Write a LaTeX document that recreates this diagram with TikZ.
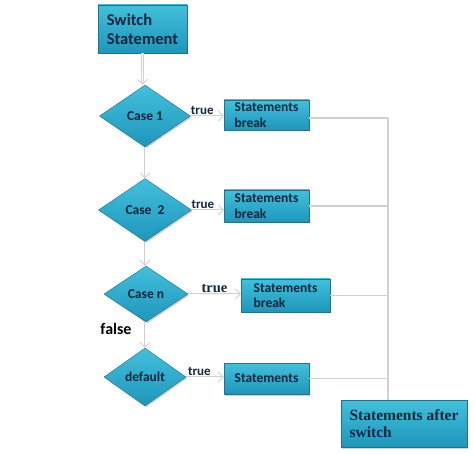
\documentclass[tikz,border=0pt]{standalone}
\usepackage{fontspec}
\setmainfont{Carlito}
\newfontfamily\serifbold{Liberation Serif}
\usetikzlibrary{positioning,shapes.geometric,shadows,arrows.meta}

\definecolor{boxtop}{RGB}{66,192,218}
\definecolor{boxbot}{RGB}{30,150,188}
\definecolor{boxline}{RGB}{36,112,142}
\definecolor{inktext}{RGB}{18,38,62}
\definecolor{linegray}{RGB}{208,208,208}

\tikzset{
    stmt/.style={rectangle, draw=boxline, top color=boxtop, bottom color=boxbot,
        text=inktext, font=\bfseries\fontsize{13.5}{15.5}\selectfont, align=left,
        inner xsep=4pt, inner ysep=0pt,
        drop shadow={shadow xshift=1.2pt, shadow yshift=-1.5pt, opacity=0.35}},
    decision/.style={diamond, draw=boxline, top color=boxtop, bottom color=boxbot,
        text=inktext, font=\bfseries\fontsize{13.5}{15}\selectfont, inner sep=0pt,
        drop shadow={shadow xshift=1.2pt, shadow yshift=-1.5pt, opacity=0.35}},
    flow/.style={draw=linegray, double=white, double distance=0.9pt, line width=0.8pt,
        -{Straight Barb[length=5pt, width=10pt]}},
    mergeline/.style={draw=linegray, line width=1.4pt},
    truelbl/.style={font=\bfseries\fontsize{13}{13}\selectfont, text=inktext, inner sep=1pt}
}

\begin{document}
\begin{tikzpicture}[x=1pt,y=-1pt]
    \useasboundingbox (0,0) rectangle (474,454);
    % boxes and decisions
    \node[stmt, minimum width=89pt, minimum height=48pt,
        font=\bfseries\fontsize{16.5}{19}\selectfont] (sw) at (142.5,29) {Switch\\Statement};
    \node[decision, minimum width=91pt, minimum height=62pt] (c1) at (145,116) {Case 1};
    \node[decision, minimum width=93pt, minimum height=63pt] (c2) at (145,210) {Case~~2};
    \node[decision, minimum width=84pt, minimum height=56pt] (cn) at (146,294) {Case n};
    \node[decision, minimum width=82pt, minimum height=58pt] (cd) at (145,377) {default};
    \node[stmt, minimum width=85pt, minimum height=30pt] (b1) at (266.5,115) {Statements\\break};
    \node[stmt, minimum width=85pt, minimum height=32pt] (b2) at (266.5,206) {Statements\\break};
    \node[stmt, minimum width=89pt, minimum height=33pt] (b3) at (285.5,295.5) {Statements\\break};
    \node[stmt, minimum width=85pt, minimum height=31pt] (b4) at (266.5,378.5) {Statements};
    \node[stmt, minimum width=126pt, minimum height=47pt,
        font=\serifbold\bfseries\fontsize{15.5}{17}\selectfont] (fin) at (404,423.5) {Statements after\\switch};
    \node[font=\bfseries\fontsize{16}{16}\selectfont] (fl) at (116,329) {false};

    % down the chain
    \draw[flow] (sw.south) -- (sw.south |- c1.north);
    \draw[flow] (c1.south) -- (c2.north);
    \draw[flow] (c2.south) -- (c2.south |- cn.north);
    \draw[flow] (cn.south -| cd.north) -- (cd.north);

    % true branches
    \draw[flow] (c1.east) -- (c1.east -| b1.west) node[truelbl, pos=0.35, above] (t1) {true};
    \draw[flow] (c2.east) -- (c2.east -| b2.west) node[truelbl, pos=0.35, above] (t2) {true};
    \draw[flow] (cn.east) -- (cn.east -| b3.west)
        node[truelbl, pos=0.5, above, font=\serifbold\bfseries\fontsize{14.5}{14.5}\selectfont] (t3) {true};
    \draw[flow] (cd.east) -- (cd.east -| b4.west) node[truelbl, pos=0.35, above] (t4) {true};

    % joining to the end
    \coordinate (j1) at (388,118);
    \draw[mergeline] (b1.east |- j1) -- (j1);
    \draw[mergeline] (b2.east) -- (b2.east -| j1);
    \draw[mergeline] (b3.east) -- (b3.east -| j1);
    \draw[mergeline] (b4.east) -- (b4.east -| j1);
    \draw[mergeline] (j1) -- (j1 |- fin.north);
\end{tikzpicture}
\end{document}
